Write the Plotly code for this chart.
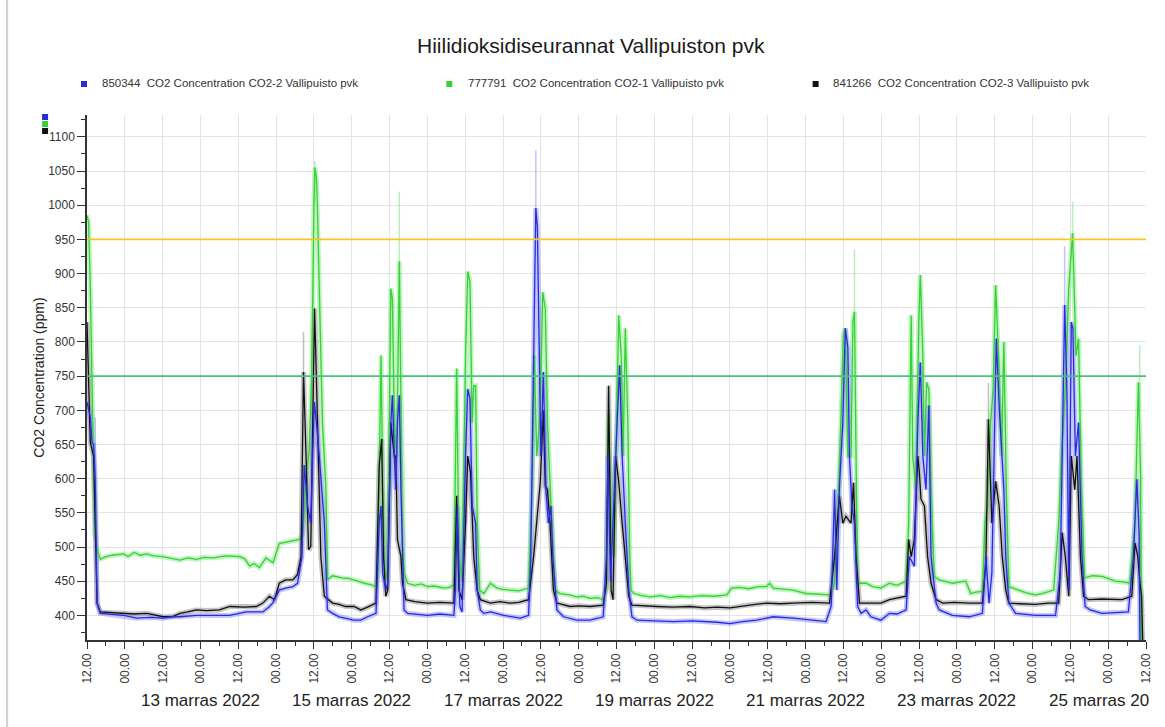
import plotly.graph_objects as go
import pandas as pd

# ---------------- data (hours since 12 Nov 2022 12:00, ppm) ----------------
start_time = "2022-11-12 12:00"
span_hours = 336

green_series = [
    (0, 985), (0.5, 975), (1, 890), (1.5, 750), (2, 600), (2.5, 520), (3, 500), (4.2, 482), (6, 486), (8, 488),
    (11.6, 490), (13, 486), (15, 492), (17, 488), (19, 490), (21, 487), (24, 486), (27, 483), (29.5, 481), (32, 484),
    (34.7, 482), (37, 485), (40, 484), (44, 487), (48.4, 486), (50, 483), (51.6, 472), (53, 476), (54.7, 470),
    (56.8, 484), (58, 480), (59, 477), (61, 505), (63, 507), (65.3, 509), (67.4, 511), (68.5, 520), (69.5, 600),
    (70.5, 640), (71.3, 750), (72, 1000), (72.3, 1055), (72.8, 1040), (73.1, 1000), (73.7, 878), (74.7, 682),
    (75.8, 584), (76.3, 452), (77.9, 458), (79.5, 456), (81, 455), (83, 454), (84.8, 452), (86, 450), (88, 447),
    (90, 445), (91.7, 442), (92.2, 457), (92.7, 600), (93.3, 780), (93.8, 600), (94.3, 486), (94.8, 452),
    (95.4, 470), (96.4, 878), (96.9, 864), (97.5, 682), (98.3, 633), (99.1, 918), (99.6, 731), (100.1, 511),
    (100.6, 462), (101.7, 447), (104, 444), (106, 446), (108, 442), (110, 443), (113.3, 440), (115, 441),
    (116.4, 445), (117.3, 761), (118, 486), (119, 450), (120.1, 780), (120.8, 903), (121.5, 888), (122.2, 682),
    (122.7, 736), (123.3, 736), (123.8, 535), (124.6, 437), (125.9, 432), (127, 440), (128, 447), (130.1, 440),
    (132, 438), (134.3, 437), (137, 436), (140.1, 440), (141.2, 584), (141.9, 780), (142.7, 633), (143.8, 700),
    (144.6, 873), (145.4, 849), (146.1, 682), (146.9, 594), (147.5, 535), (148.5, 437), (150.1, 432), (153, 430),
    (155.4, 427), (157.5, 428), (159.6, 425), (162, 426), (163.8, 423), (164.8, 440), (165.5, 700), (166.2, 560),
    (167.2, 486), (168.2, 700), (168.7, 839), (169.5, 780), (170.1, 633), (170.8, 820), (171.6, 682), (172.2, 486),
    (172.6, 437), (173.5, 432), (176, 429), (178.7, 427), (182, 429), (185, 426), (188, 428), (191.4, 427),
    (195, 429), (199, 428), (203, 430), (204.5, 440), (207, 441), (210, 439), (213, 442), (215.6, 442),
    (216.6, 447), (217.7, 440), (221, 438), (224, 437), (228.2, 432), (232, 431), (235.6, 430), (237.2, 447),
    (238.7, 609), (240, 810), (240.6, 820), (241.4, 633), (242.4, 633), (243, 829), (243.5, 844), (244, 633),
    (244.5, 447), (247.2, 447), (249.3, 442), (251.9, 440), (254.6, 447), (257, 444), (259.9, 450), (260.7, 535),
    (261.5, 839), (262, 633), (263, 584), (263.9, 829), (264.4, 898), (265.2, 780), (265.7, 633), (266.4, 741),
    (267.1, 731), (267.8, 584), (268.8, 457), (270.4, 452), (272.5, 450), (274.6, 447), (277, 449), (278.8, 450),
    (280.4, 432), (282, 434), (284.1, 435), (284.9, 535), (285.7, 560), (286.7, 682), (287.5, 731), (288.3, 883),
    (289.2, 780), (290.2, 633), (290.9, 800), (291.7, 584), (292.5, 442), (295.7, 437), (298, 433), (300.9, 430),
    (303, 432), (306.7, 437), (308.3, 535), (309.2, 633), (310.4, 731), (311.5, 878), (312.7, 959), (313.8, 780),
    (314.6, 805), (315.5, 584), (316.5, 455), (319, 458), (322, 457), (324, 454), (326.2, 450), (328.5, 449),
    (330.9, 447), (332.5, 535), (333.6, 741), (334.3, 600), (334.5, 300),
]

blue_series = [
    (0, 712), (0.5, 700), (1.05, 690), (1.6, 653), (2.1, 650), (2.6, 600), (3.2, 418), (4.2, 403), (8, 401),
    (11.6, 400), (15.8, 396), (20, 397), (24.2, 396), (27, 398), (29.5, 398), (34.7, 400), (40, 400), (45.3, 400),
    (50.5, 405), (55.8, 405), (57.9, 413), (58.9, 418), (61, 437), (63, 440), (65.3, 442), (66.8, 447),
    (68.2, 486), (68.9, 620), (70, 560), (71, 535), (72.1, 712), (72.8, 682), (73.7, 633), (75.3, 535),
    (76.3, 408), (77.9, 403), (80, 398), (82.1, 396), (84.7, 393), (86.9, 393), (89, 398), (91.7, 403),
    (92.7, 535), (93.3, 560), (93.8, 462), (94.8, 437), (95.4, 447), (96.4, 682), (96.9, 722), (97.5, 633),
    (98, 584), (98.5, 682), (99.1, 722), (99.6, 584), (100.1, 486), (100.6, 408), (101.7, 403), (105, 401),
    (108, 400), (112, 402), (116.4, 400), (116.9, 437), (117.5, 560), (118.3, 413), (119, 405), (120.1, 633),
    (120.8, 731), (121.5, 717), (122.2, 560), (123.3, 535), (123.8, 437), (124.8, 408), (125.9, 403), (128, 405),
    (132.2, 400), (137.5, 396), (140.1, 400), (140.8, 486), (141.7, 780), (142.4, 996), (142.9, 967), (143.5, 780),
    (144, 633), (144.8, 756), (145.6, 584), (146.4, 535), (147.2, 560), (147.8, 486), (149.1, 408), (151.2, 398),
    (155.4, 393), (159.6, 393), (163.8, 398), (164.8, 486), (165.3, 633), (166.1, 450), (167.2, 584), (168.2, 682),
    (169, 766), (169.8, 633), (170.8, 535), (171.9, 437), (172.9, 398), (174.5, 393), (180, 392), (186.1, 391),
    (192, 392), (196.6, 391), (200, 390), (204, 388), (208, 391), (212.4, 393), (217.7, 398), (224, 396),
    (229, 394), (234.5, 391), (236.1, 413), (237.2, 584), (237.9, 437), (238.7, 584), (239.8, 682), (240.6, 820),
    (241.4, 792), (241.9, 633), (242.7, 560), (243.5, 535), (244.5, 413), (245.6, 403), (247.2, 408), (248.7, 398),
    (251.9, 393), (254.6, 403), (257, 402), (259.9, 408), (260.9, 486), (262.5, 472), (263.6, 682), (264.4, 770),
    (265.2, 633), (266.2, 584), (267.1, 707), (267.8, 486), (269.4, 418), (270.4, 408), (274.6, 400), (279.9, 398),
    (284.1, 403), (285.2, 486), (286.2, 418), (287.1, 462), (287.8, 633), (288.5, 805), (289.4, 707), (290.2, 633),
    (290.9, 584), (291.5, 486), (292.5, 418), (294.6, 403), (300.9, 400), (307.3, 400), (308.8, 462), (310.2, 854),
    (310.9, 731), (311.5, 437), (312.3, 829), (312.8, 820), (313.6, 633), (314.6, 682), (315.7, 486), (316.7, 413),
    (318.3, 408), (322, 403), (326, 404), (330.4, 405), (332, 486), (333.1, 599), (333.8, 520), (334.2, 300),
]

black_series = [
    (0, 829), (0.5, 731), (1.05, 653), (2.1, 633), (2.6, 535), (3.2, 418), (4.2, 405), (8, 404), (11.6, 403),
    (15, 402), (19, 403), (24.2, 398), (27, 398), (29.5, 403), (32, 405), (34.7, 408), (38, 407), (42, 408),
    (45.3, 413), (50, 412), (53.7, 413), (55.8, 418), (57.9, 428), (59.5, 423), (61, 447), (63, 452), (65.3, 452),
    (66.8, 460), (67.9, 486), (68.7, 756), (69.5, 633), (70.3, 496), (71, 501), (72, 829), (72.2, 849),
    (72.6, 780), (73.5, 633), (74.2, 486), (75.3, 428), (77.9, 418), (80, 416), (82.1, 413), (84.7, 413),
    (86.9, 408), (89, 412), (91.7, 418), (92.7, 619), (93.5, 658), (94.1, 486), (94.8, 428), (95.4, 437),
    (96.4, 682), (97.5, 633), (98, 633), (98.5, 511), (99.6, 486), (100.1, 447), (101.2, 423), (104, 420),
    (108, 418), (112, 419), (116.4, 418), (117.3, 575), (118, 437), (119, 423), (120.1, 535), (120.8, 633),
    (121.7, 609), (122.7, 486), (123.8, 437), (124.8, 423), (128, 418), (131, 420), (134.3, 418), (137, 419),
    (140.1, 423), (141.7, 486), (142.7, 535), (143.8, 594), (144.8, 700), (145.4, 589), (146.1, 584),
    (146.9, 535), (148, 437), (149.1, 418), (153.3, 413), (156, 414), (159.6, 413), (163.8, 415), (164.8, 447),
    (165.5, 736), (166.3, 437), (166.9, 423), (167.7, 633), (168.7, 596), (169.8, 535), (170.8, 486),
    (171.9, 428), (172.9, 415), (176, 414), (180.8, 413), (186, 412), (191.4, 413), (196, 411), (200, 412),
    (204, 411), (208, 414), (212, 416), (215.6, 418), (220, 417), (224, 418), (230, 419), (235.6, 418),
    (237.2, 486), (238.7, 575), (239.8, 535), (240.8, 545), (242.4, 535), (243.2, 594), (244, 486), (245.1, 418),
    (249.3, 418), (251.9, 418), (254.6, 423), (257, 425), (259.9, 428), (260.7, 511), (261.5, 486), (262.5, 511),
    (263.6, 633), (264.1, 609), (264.6, 570), (265.7, 560), (266.7, 486), (267.8, 447), (269.4, 423),
    (271.5, 418), (275, 419), (279.9, 418), (284.1, 418), (285.2, 477), (286, 687), (287.1, 535), (288.3, 596),
    (289.4, 560), (290.4, 486), (291.5, 437), (292.5, 418), (296, 417), (300.9, 416), (305, 418), (308.3, 418),
    (309.4, 521), (310.4, 486), (311.5, 428), (312.3, 633), (313.4, 584), (314.1, 633), (315.2, 486),
    (316.2, 428), (317.8, 423), (322, 424), (328.3, 423), (331.5, 428), (332.5, 506), (333.4, 486), (334.1, 447),
    (334.6, 428), (335.3, 300),
]

# faint raw-reading spikes: (hour, low, high)
green_raw_spikes = [(72.3, 1000, 1065), (99.1, 900, 1020), (243.5, 840, 935), (312.7, 950, 1005), (334.0, 700, 795)]
blue_raw_spikes = [(142.4, 990, 1080), (310.2, 850, 940), (2.6, 600, 690)]
gray_raw_spikes = [(68.7, 750, 815), (286.0, 680, 740)]

threshold_high = 950
threshold_low = 750

series_names = [
    "850344  CO2 Concentration CO2-2 Vallipuisto pvk",
    "777791  CO2 Concentration CO2-1 Vallipuisto pvk",
    "841266  CO2 Concentration CO2-3 Vallipuisto pvk",
]
x_tick_labels = ["12.00", "00.00"] * 14 + ["12.00"]
date_labels = ["13 marras 2022", "15 marras 2022", "17 marras 2022", "19 marras 2022",
               "21 marras 2022", "23 marras 2022", "25 marras 2022"]
date_label_days = ["2022-11-14", "2022-11-16", "2022-11-18", "2022-11-20",
                   "2022-11-22", "2022-11-24", "2022-11-26"]
y_ticks = list(range(400, 1101, 50))

# ---------------- styling ----------------
W, H = 1165, 727
L, R, T, B = 87, 17, 115, 87
PW, PH = W - L - R, H - T - B
FONT = "Liberation Sans, Arial, sans-serif"
C_BLUE, C_GREEN, C_BLACK = "#2a2ad8", "#35d135", "#111111"
C_BLUE_F, C_GREEN_F, C_GRAY_F = "rgba(120,130,255,0.45)", "rgba(120,230,120,0.45)", "rgba(150,150,150,0.55)"

base = pd.Timestamp(start_time)


def hours_to_dt(hs):
    return [base + pd.Timedelta(hours=h) for h in hs]


def px(xp):
    return (xp - L) / PW


def py(yp):
    return (H - B - yp) / PH


fig = go.Figure()


def split(series):
    return [p[0] for p in series], [p[1] for p in series]


for series, faint in [(green_series, C_GREEN_F), (black_series, C_GRAY_F), (blue_series, C_BLUE_F)]:
    h, v = split(series)
    fig.add_trace(go.Scatter(x=hours_to_dt(h), y=v, mode="lines", line=dict(color=faint, width=5),
                             hoverinfo="skip", showlegend=False))

for spikes, col in [(green_raw_spikes, "rgba(120,230,120,0.55)"), (blue_raw_spikes, "rgba(130,140,255,0.5)"),
                    (gray_raw_spikes, "rgba(150,150,150,0.6)")]:
    xs, ys = [], []
    for hh, lo, hi in spikes:
        d = base + pd.Timedelta(hours=hh)
        xs += [d, d, None]
        ys += [lo, hi, None]
    fig.add_trace(go.Scatter(x=xs, y=ys, mode="lines", line=dict(color=col, width=1.5),
                             hoverinfo="skip", showlegend=False))

for series, col, name in [(green_series, C_GREEN, series_names[1]), (black_series, C_BLACK, series_names[2]),
                          (blue_series, C_BLUE, series_names[0])]:
    h, v = split(series)
    fig.add_trace(go.Scatter(x=hours_to_dt(h), y=v, mode="lines", line=dict(color=col, width=1.3),
                             name=name, showlegend=False))

x0 = base
x1 = base + pd.Timedelta(hours=span_hours)
tick_vals = [base + pd.Timedelta(hours=12 * i) for i in range(len(x_tick_labels))]

# threshold lines
fig.add_shape(type="line", xref="paper", x0=0, x1=1, yref="y", y0=threshold_high, y1=threshold_high,
              line=dict(color="#ffc125", width=1.6), layer="above")
fig.add_shape(type="line", xref="paper", x0=0, x1=1, yref="y", y0=threshold_low, y1=threshold_low,
              line=dict(color="#45c47a", width=1.6), layer="above")

annotations = []
# title
annotations.append(dict(text="Hiilidioksidiseurannat Vallipuiston pvk", x=px(592), y=py(45), xref="paper",
                        yref="paper", showarrow=False, xanchor="center", yanchor="middle",
                        font=dict(family=FONT, size=21, color="#1a1a1a")))
# legend
leg_pos = [(81, 100, C_BLUE, series_names[0]), (447, 467, C_GREEN, series_names[1]),
           (814, 832, C_BLACK, series_names[2])]
for sq_x, tx, col, name in leg_pos:
    fig.add_shape(type="rect", xref="paper", yref="paper", x0=px(sq_x), x1=px(sq_x + 6), y0=py(87), y1=py(81),
                  fillcolor=col, line=dict(width=0))
    annotations.append(dict(text=name, x=px(tx), y=py(83), xref="paper", yref="paper", showarrow=False,
                            xanchor="left", yanchor="middle", font=dict(family=FONT, size=11.5, color="#333")))
# small colour markers near the y axis top
for i, col in enumerate([C_BLUE, C_GREEN, C_BLACK]):
    fig.add_shape(type="rect", xref="paper", yref="paper", x0=px(42), x1=px(48), y0=py(120 + 7 * i),
                  y1=py(114 + 7 * i), fillcolor=col, line=dict(width=0))
# date labels
for i, (lab, day) in enumerate(zip(date_labels, date_label_days)):
    d = pd.Timestamp(day)
    if i == len(date_labels) - 1:
        annotations.append(dict(text=lab[:-2], x=d, y=py(700), xref="x", yref="paper", showarrow=False,
                                xanchor="left", xshift=-61, yanchor="middle",
                                font=dict(family=FONT, size=17, color="#222")))
    else:
        annotations.append(dict(text=lab, x=d, y=py(700), xref="x", yref="paper", showarrow=False,
                                xanchor="center", yanchor="middle", font=dict(family=FONT, size=17, color="#222")))

# frame
fig.add_shape(type="line", xref="paper", yref="paper", x0=px(7), x1=px(7), y0=py(0), y1=py(727),
              line=dict(color="#cfcfcf", width=2))

fig.update_layout(
    width=W, height=H, margin=dict(l=L, r=R, t=T, b=B),
    paper_bgcolor="white", plot_bgcolor="white",
    annotations=annotations, showlegend=False,
    font=dict(family=FONT, size=12, color="#333"),
    xaxis=dict(type="date", range=[x0, x1], tickmode="array", tickvals=tick_vals, ticktext=x_tick_labels,
               tickangle=-90, ticks="outside", ticklen=7, tickcolor="#333", showline=True, linecolor="#333",
               linewidth=1.5, showgrid=True, gridcolor="#e4e4e4", gridwidth=1, zeroline=False,
               tickfont=dict(family=FONT, size=12, color="#333"),
               minor=dict(dtick=6 * 3600 * 1000, tick0=base, ticks="outside", ticklen=4, tickcolor="#333",
                          showgrid=False)),
    yaxis=dict(range=[364, 1132], tickmode="array", tickvals=y_ticks, ticks="outside", ticklen=8,
               tickcolor="#333", showline=True, linecolor="#333", linewidth=1.5, showgrid=True,
               gridcolor="#e4e4e4", gridwidth=1, zeroline=False,
               tickfont=dict(family=FONT, size=12, color="#333"),
               title=dict(text="CO2 Concentration (ppm)", font=dict(family=FONT, size=14, color="#222"),
                          standoff=0),
               minor=dict(dtick=25, tick0=0, ticks="outside", ticklen=4, tickcolor="#333", showgrid=False)),
)

fig.write_html("out.html", config={"displayModeBar": False},
               post_script="document.body.style.margin='0';document.body.style.overflow='hidden';")
